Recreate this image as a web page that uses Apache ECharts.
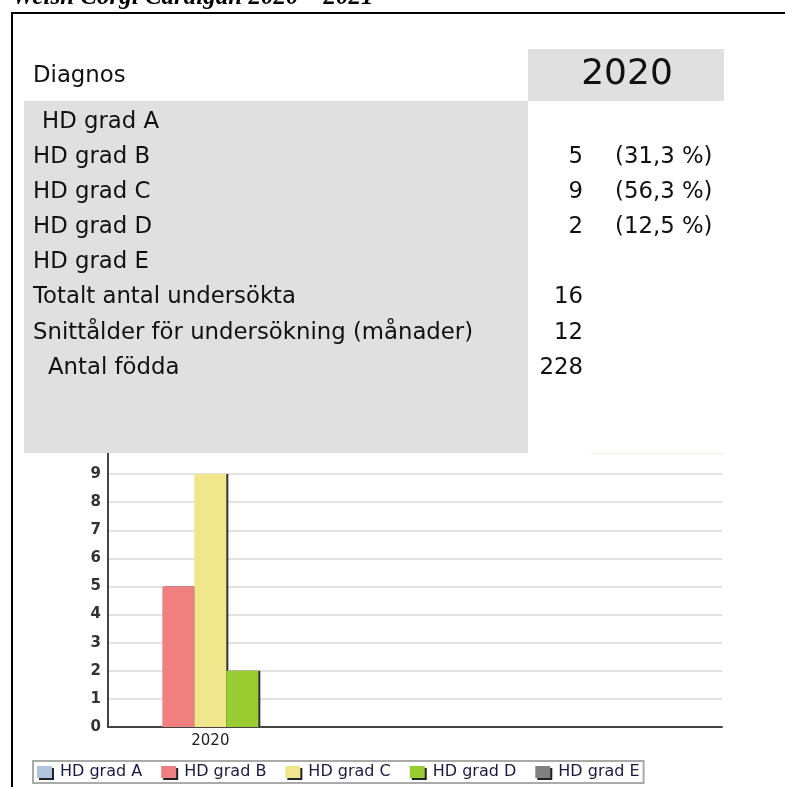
<!DOCTYPE html>
<html><head><meta charset="utf-8">
<script src="https://cdn.jsdelivr.net/npm/echarts@6/dist/echarts.min.js"></script>
<style>html,body{margin:0;padding:0;background:#fff}#c{width:785px;height:787px}</style>
</head><body><div id="c"></div>
<script>
// ---- data ----
const titleText = 'Welsh Corgi Cardigan 2020 – 2021';
const headerLabel = 'Diagnos';
const yearLabel = '2020';
const categories = ['2020', ' ', '  '];
const seriesNames = ['HD grad A', 'HD grad B', 'HD grad C', 'HD grad D', 'HD grad E'];
const gradA = [null, null, null];
const gradB = [5, null, null];
const gradC = [9, null, null];
const gradD = [2, null, null];
const gradE = [null, null, null];
const yTicks = [0, 1, 2, 3, 4, 5, 6, 7, 8, 9];
const rowLabels = ['HD grad A', 'HD grad B', 'HD grad C', 'HD grad D', 'HD grad E',
  'Totalt antal undersökta', 'Snittålder för undersökning (månader)', 'Antal födda'];
const rowCounts = ['', '5', '9', '2', '', '16', '12', '228'];
const rowPercents = ['', '(31,3 %)', '(56,3 %)', '(12,5 %)', '', '', '', ''];

// ---- styles ----
const colors = ['#B0C4DE', '#F08080', '#F0E68C', '#9ACD32', '#808080'];
const rowIndent = [9, 0, 0, 0, 0, 0, 0, 15];
const FONT = '"DejaVu Sans", Verdana, sans-serif';
const tableFont = '22.8px ' + FONT;
const rowY0 = 122, rowStep = 35.1;

const graphics = [];
// border lines
graphics.push({ type: 'rect', shape: { x: 11, y: 12, width: 774, height: 2 }, style: { fill: '#000' }, z: 100 });
graphics.push({ type: 'rect', shape: { x: 11, y: 12, width: 2, height: 775 }, style: { fill: '#000' }, z: 100 });
// title (cropped at top)
graphics.push({ type: 'text', x: 12, y: -2, z: 99,
  style: { text: titleText, font: 'italic bold 25px "Liberation Serif", "Times New Roman", serif', fill: '#000', verticalAlign: 'middle' } });
// table background
graphics.push({ type: 'rect', shape: { x: 24, y: 40, width: 700, height: 413 }, style: { fill: '#fff' }, z: 100 });
graphics.push({ type: 'rect', shape: { x: 528, y: 49, width: 196, height: 52 }, style: { fill: '#e0e0e0' }, z: 101 });
graphics.push({ type: 'rect', shape: { x: 24, y: 101, width: 504, height: 352 }, style: { fill: '#e0e0e0' }, z: 101 });
graphics.push({ type: 'line', shape: { x1: 590, y1: 453.5, x2: 725, y2: 453.5 }, style: { stroke: '#eef7e4', lineWidth: 1 }, z: 101 });
graphics.push({ type: 'text', x: 33, y: 76, z: 102, style: { text: headerLabel, font: tableFont, fill: '#111', verticalAlign: 'middle' } });
graphics.push({ type: 'text', x: 627, y: 75, z: 102, style: { text: yearLabel, font: '36px ' + FONT, fill: '#111', align: 'center', verticalAlign: 'middle' } });
rowLabels.forEach((t, i) => {
  const y = rowY0 + i * rowStep;
  graphics.push({ type: 'text', x: 33 + rowIndent[i], y, z: 102, style: { text: t, font: tableFont, fill: '#111', verticalAlign: 'middle' } });
  if (rowCounts[i]) graphics.push({ type: 'text', x: 583, y, z: 102, style: { text: rowCounts[i], font: tableFont, fill: '#111', align: 'right', verticalAlign: 'middle' } });
  if (rowPercents[i]) graphics.push({ type: 'text', x: 615, y, z: 102, style: { text: rowPercents[i], font: tableFont, fill: '#111', verticalAlign: 'middle' } });
});

const seriesData = [gradA, gradB, gradC, gradD, gradE];
const chart = echarts.init(document.getElementById('c'), null, { renderer: 'canvas' });
chart.setOption({
  animation: false,
  backgroundColor: '#fff',
  color: colors,
  grid: { left: 108, right: 63, top: 446, bottom: 60, containLabel: false },
  xAxis: {
    type: 'category', data: categories,
    axisLine: { lineStyle: { color: '#444', width: 2 } },
    axisTick: { show: false },
    axisLabel: { fontSize: 15, color: '#222', margin: 7, fontFamily: FONT }
  },
  yAxis: {
    type: 'value', min: 0, max: 10, interval: 1,
    axisLine: { show: true, lineStyle: { color: '#444', width: 2 } },
    axisTick: { show: false },
    axisLabel: { fontSize: 15, fontWeight: 'bold', color: '#333', margin: 7, fontFamily: FONT,
      formatter: v => (yTicks.indexOf(v) >= 0 ? String(v) : '') },
    splitLine: { lineStyle: { color: '#e2e2e2', width: 2 } }
  },
  legend: {
    data: seriesNames, left: 33, top: 761, icon: 'rect',
    itemWidth: 15, itemHeight: 12, itemGap: 19,
    padding: [3, 4, 3, 4], borderColor: '#aaa', borderWidth: 2, backgroundColor: '#fff',
    itemStyle: { shadowColor: '#222', shadowOffsetX: 2, shadowOffsetY: 2, shadowBlur: 0 },
    textStyle: { fontSize: 16, color: '#1a1a40', fontFamily: FONT, padding: [0, 0, 0, 3] }
  },
  series: seriesNames.map((n, i) => ({
    name: n, type: 'bar', data: seriesData[i], barWidth: 32, barGap: '0%',
    itemStyle: { color: colors[i], shadowColor: '#333', shadowOffsetX: 2, shadowOffsetY: 0, shadowBlur: 0 },
    emphasis: { disabled: true }
  })),
  graphic: { elements: graphics }
});
</script>
</body></html>
